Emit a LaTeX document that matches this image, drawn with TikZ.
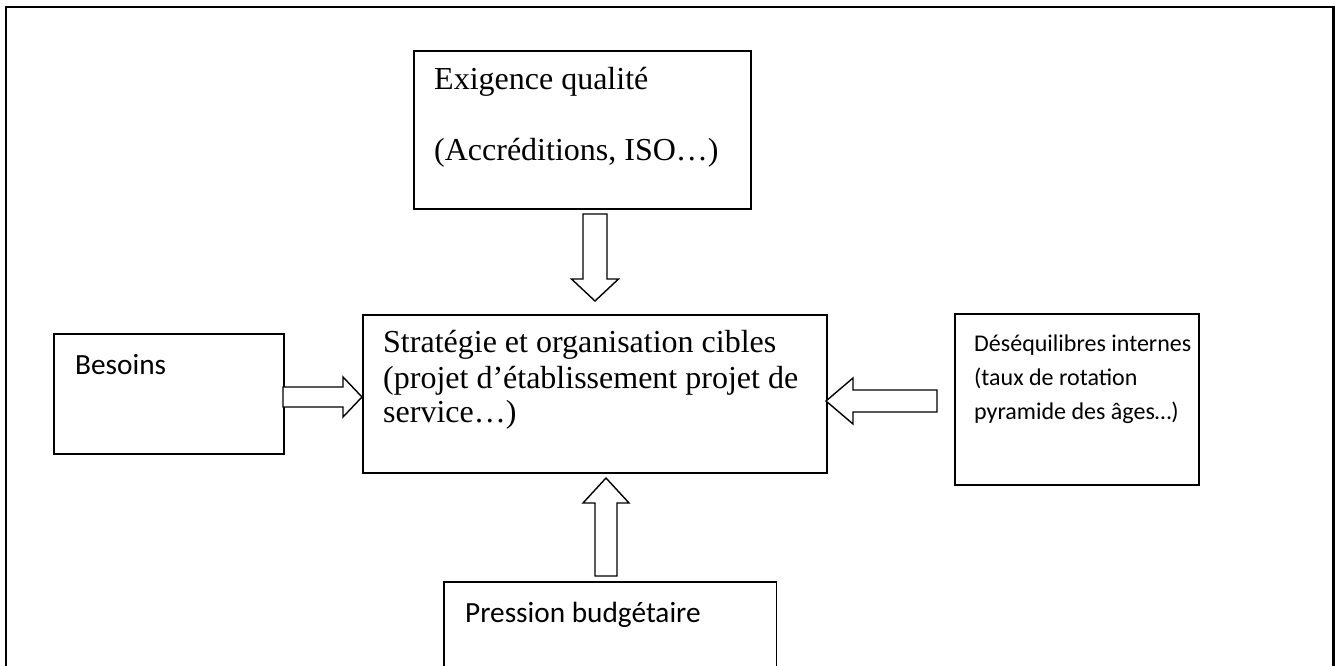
\documentclass[tikz,border=0pt]{standalone}
\usepackage{fontspec}
\setmainfont{Liberation Serif}
\newfontfamily\calibrifont{Carlito}
\usetikzlibrary{calc}

% Hollow block arrow: #1 tail, #2 tip, #3 half shaft width, #4 half head width, #5 head length
\newcommand\blockarrow[5]{%
  \path ($(#2)!#5!(#1)$) coordinate (arrbase);
  \draw[blockarr] ($(#1)!#3!90:(#2)$) -- ($(arrbase)!#3!90:(#2)$)
    -- ($(arrbase)!#4!90:(#2)$) -- (#2) -- ($(arrbase)!#4!-90:(#2)$)
    -- ($(arrbase)!#3!-90:(#2)$) -- ($(#1)!#3!-90:(#2)$) -- cycle;
}

\begin{document}
\begin{tikzpicture}[x=1pt,y=-1pt,
  box/.style={draw, line width=1.6pt, rectangle, inner sep=0pt, anchor=north west},
  frame/.style={rectangle, inner sep=0pt, anchor=north west},
  serif/.style={anchor=base west, inner sep=0pt, font=\fontsize{32}{36}\selectfont},
  sans/.style={anchor=base west, inner sep=0pt, font=\calibrifont\fontsize{29.3}{34}\selectfont},
  smallsans/.style={anchor=base west, inner sep=0pt, font=\calibrifont\fontsize{24}{28}\selectfont},
  blockarr/.style={draw, line width=1.4pt, fill=white, line join=miter}]
\useasboundingbox (0,0) rectangle (1335,666);

% outer frame, open at the bottom
\node[frame, minimum width=1327pt, minimum height=659pt] (outer) at (6,7) {};
\draw[line width=2.2pt] (outer.south west) -- (outer.north west) -- (outer.north east) -- (outer.south east);

% boxes
\node[box, minimum width=337pt, minimum height=158pt] (exig) at (413,50) {};
\node[box, minimum width=464pt, minimum height=158pt] (strat) at (362,314) {};
\node[box, minimum width=230pt, minimum height=120pt] (besoins) at (53,333) {};
\node[box, minimum width=244pt, minimum height=171pt] (deseq) at (954,313) {};
\node[frame, minimum width=332pt, minimum height=84pt] (budget) at (444,582) {};
\draw[line width=1.6pt] (budget.south west) -- (budget.north west) -- (budget.north east) -- (budget.south east);

% texts
\node[serif] (t1) at (434,90) {Exigence qualité};
\node[serif] (t2) at (434,160) {(Accréditions, ISO…)};
\node[serif] (c1) at (383,352) {Stratégie et organisation cibles};
\node[serif] (c2) at (383,388) {(projet d’établissement projet de};
\node[serif] (c3) at (383,422) {service…)};
\node[sans] (b1) at (75,374) {Besoins};
\node[smallsans] (d1) at (974,351) {Déséquilibres internes};
\node[smallsans] (d2) at (974,385) {(taux de rotation};
\node[smallsans] (d3) at (974,419) {pyramide des âges…)};
\node[sans] (p1) at (465,622) {Pression budgétaire};

% arrow ends
\coordinate (exigtail) at (595,214);
\coordinate (exigtip) at (595,301);
\coordinate (budtail) at (606,576);
\coordinate (budtip) at (606,478);
\coordinate (bestail) at (283,397);
\coordinate (bestip) at (362,397);
\coordinate (destail) at (937,401);
\coordinate (destip) at (826,401);

% block arrows towards the central box
\blockarrow{exigtail}{exigtip}{12pt}{23.5pt}{22pt}
\blockarrow{budtail}{budtip}{11pt}{23pt}{25pt}
\blockarrow{bestail}{bestip}{10pt}{20pt}{19pt}
\blockarrow{destail}{destip}{11pt}{23pt}{27pt}
\end{tikzpicture}
\end{document}
